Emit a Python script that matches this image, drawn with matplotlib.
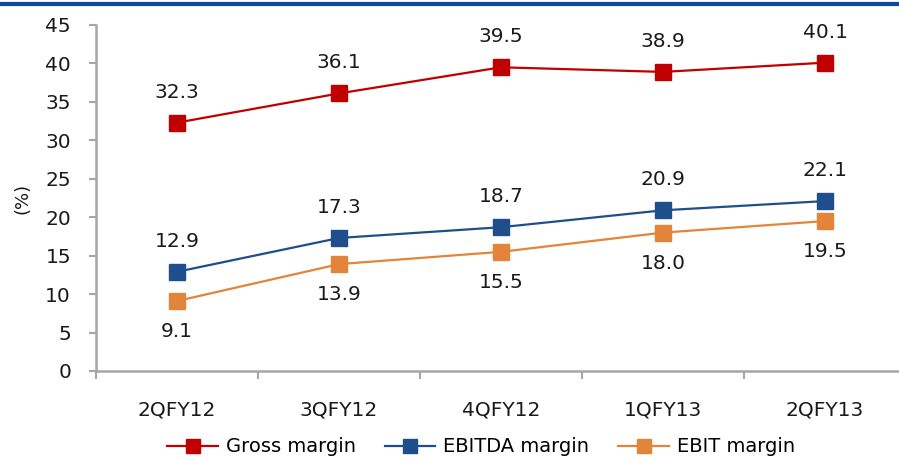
import matplotlib.pyplot as plt
from matplotlib.lines import Line2D

quarters = ["2QFY12", "3QFY12", "4QFY12", "1QFY13", "2QFY13"]
gross_margin = [32.3, 36.1, 39.5, 38.9, 40.1]
ebitda_margin = [12.9, 17.3, 18.7, 20.9, 22.1]
ebit_margin = [9.1, 13.9, 15.5, 18.0, 19.5]

plt.rcParams['font.family'] = ['DejaVu Sans']
fig = plt.figure(figsize=(8.99, 4.59), dpi=100)
ax = fig.add_axes([96 / 899, 88 / 459, 810 / 899, 346 / 459])

x = list(range(len(quarters)))
series = [
    (gross_margin, "Gross margin", "#c00000", 1),
    (ebitda_margin, "EBITDA margin", "#1f4e8c", 1),
    (ebit_margin, "EBIT margin", "#e2843a", -1),
]
handles = []
for vals, name, col, side in series:
    h, = ax.plot(x, vals, color=col, lw=1.6, marker="s", markersize=11,
                 label=name, zorder=3)
    handles.append(h)
    for xi, v in zip(x, vals):
        ax.annotate(f"{v:.1f}", (xi, v), xytext=(0, 22 * side), textcoords="offset points",
                    ha="center", va="center", fontsize=14.5, color="#1a1a1a")

ax.set_xlim(-0.5, len(quarters) - 0.5)
ax.set_ylim(0, 45)
ax.set_yticks(range(0, 46, 5))
ax.set_xticks(x)
ax.set_xticklabels(quarters, fontsize=14.5, color="#1a1a1a")
ax.set_xticks([i + 0.5 for i in range(-1, len(quarters))], minor=True)
ax.tick_params(axis="x", which="major", length=0, pad=21)
ax.tick_params(axis="x", which="minor", length=6, width=1.5, color="#a6a6a6")
ax.tick_params(axis="y", length=5, width=1.5, color="#a6a6a6", labelsize=14.5,
               labelcolor="#1a1a1a", pad=13)
ax.set_ylabel("(%)", fontsize=13, color="#1a1a1a")
ax.yaxis.set_label_coords(-0.08, 0.5)

for s in ["top", "right"]:
    ax.spines[s].set_visible(False)
for s in ["left", "bottom"]:
    ax.spines[s].set_color("#a6a6a6")
    ax.spines[s].set_linewidth(1.8)

fig.legend(handles=handles, loc="center", bbox_to_anchor=(481 / 899, 12 / 459),
           ncol=3, frameon=False, fontsize=14, handlelength=2.6,
           columnspacing=1.5, handletextpad=0.4, markerscale=0.9)

# blue rule along the top edge
fig.add_artist(Line2D([0, 1], [1 - 4 / 459, 1 - 4 / 459], color="#0b4aa0", lw=3,
                      transform=fig.transFigure))

fig.savefig("out.png", dpi=100)
